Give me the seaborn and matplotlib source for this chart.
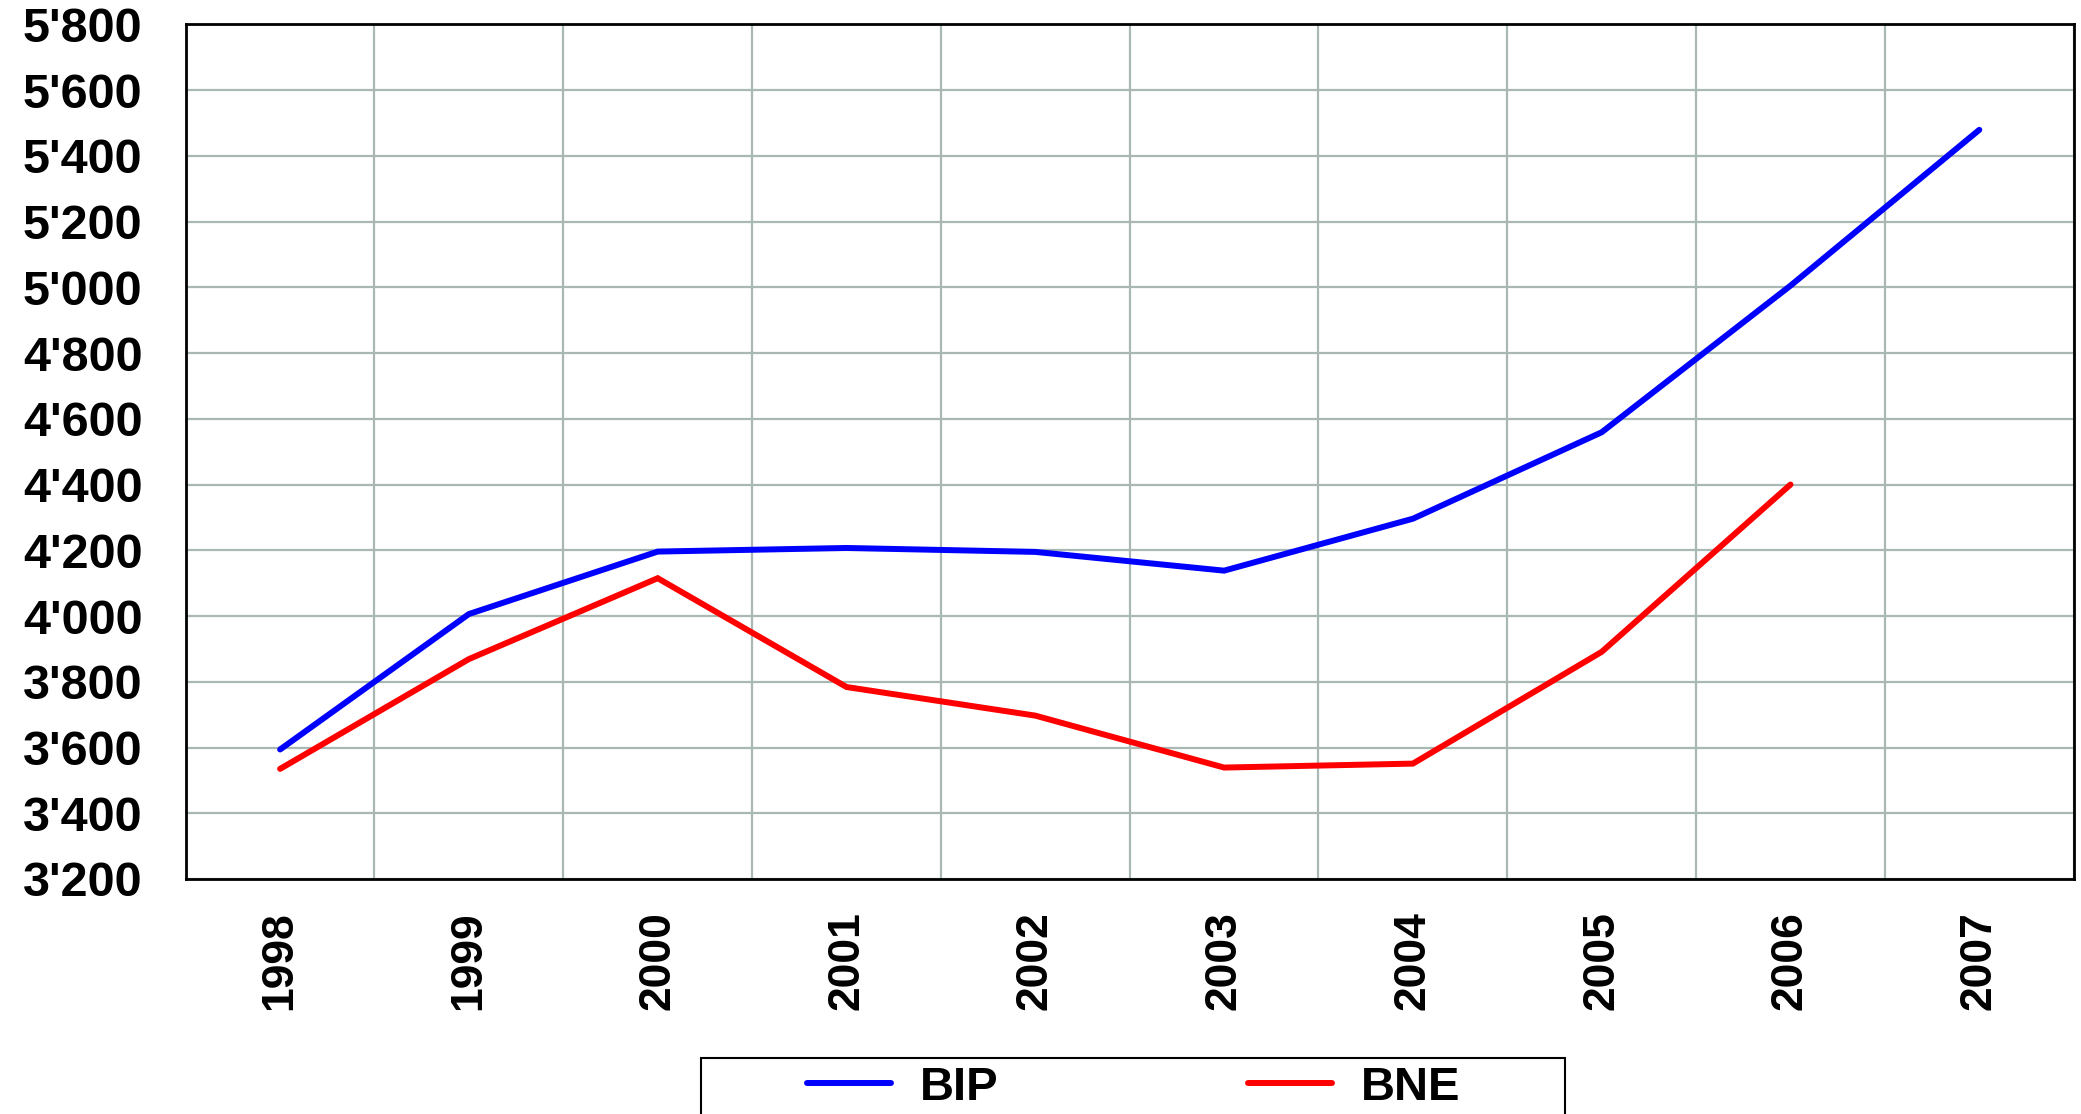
import numpy as np
import pandas as pd
import matplotlib
matplotlib.use("Agg")
import matplotlib.pyplot as plt
import matplotlib.ticker as mticker
from matplotlib.patches import Rectangle
import seaborn as sns

years = ["1998", "1999", "2000", "2001", "2002", "2003", "2004", "2005", "2006", "2007"]
bip = [3594, 4006, 4196, 4207, 4195, 4138, 4296, 4559, 5005, 5479]
bne = [3535, 3869, 4115, 3784, 3697, 3539, 3551, 3891, 4400, np.nan]
series_names = ["BIP", "BNE"]
series_colors = ["#0000FF", "#FF0000"]
y_ticks = list(range(3200, 5801, 200))

sns.set_style("white")
plt.rcParams["font.family"] = ["Liberation Sans", "DejaVu Sans"]
plt.rcParams["font.weight"] = "bold"
plt.rcParams["text.color"] = "black"
plt.rcParams["xtick.color"] = "black"
plt.rcParams["ytick.color"] = "black"
plt.rcParams["xtick.labelcolor"] = "black"
plt.rcParams["ytick.labelcolor"] = "black"
plt.rcParams["axes.labelcolor"] = "black"

df = pd.DataFrame({
    "x": list(range(len(years))) * 2,
    "value": bip + bne,
    "series": [series_names[0]] * len(years) + [series_names[1]] * len(years),
})
df = df.dropna()

W, H = 2081, 1114
fig = plt.figure(figsize=(W / 100, H / 100), dpi=100)
ax = fig.add_axes([185.7 / W, 1 - 879 / H, (2073.7 - 185.7) / W, (879 - 24.3) / H])

sns.lineplot(data=df, x="x", y="value", hue="series", palette=series_colors,
             hue_order=series_names, linewidth=4.3, legend=False, ax=ax,
             solid_capstyle="round", solid_joinstyle="miter")

ax.set_xlim(-0.5, len(years) - 0.5)
ax.set_ylim(3200, 5800)
ax.set_xlabel("")
ax.set_ylabel("")

# Category boundaries: major ticks + vertical grid
ax.set_xticks(np.arange(-0.5, len(years), 1.0))
ax.set_xticklabels([])
ax.set_xticks(np.arange(len(years)), minor=True)
ax.set_xticklabels(years, minor=True, rotation=90, fontsize=32, fontweight="bold", color="black")
ax.tick_params(axis="x", which="major", direction="out", length=11, width=1.8, color="black")
ax.tick_params(axis="x", which="minor", length=0, pad=23)

ax.set_yticks(y_ticks)
ax.yaxis.set_major_formatter(mticker.FuncFormatter(lambda v, p: f"{int(v):,}".replace(",", "'")))
ax.tick_params(axis="y", which="major", direction="out", length=13, width=1.8, color="black",
               labelsize=35, pad=18, labelcolor="black")
for lab in ax.get_yticklabels():
    lab.set_fontweight("bold")

ax.grid(True, which="major", axis="both", color="#A9B8B2", linewidth=1.6)
ax.set_axisbelow(True)

for s in ax.spines.values():
    s.set_visible(True)
    s.set_color("black")
    s.set_linewidth(2.0)

# Legend
handles = ax.get_lines()[:2]
fig.legend(handles, series_names, loc="center left",
           bbox_to_anchor=(807 / W, 1 - 1088 / H), ncol=2, frameon=False,
           borderpad=0, borderaxespad=0, prop={"weight": "bold", "size": 34},
           handlelength=1.78, handletextpad=0.6, columnspacing=5.3,
           labelcolor="black")
fig.patches.append(Rectangle((701 / W, -0.05), 864 / W, 0.05 + (1 - 1058 / H),
                             transform=fig.transFigure, fill=False,
                             edgecolor="black", linewidth=1.5))

fig.savefig("out.png", dpi=100, facecolor="white")
